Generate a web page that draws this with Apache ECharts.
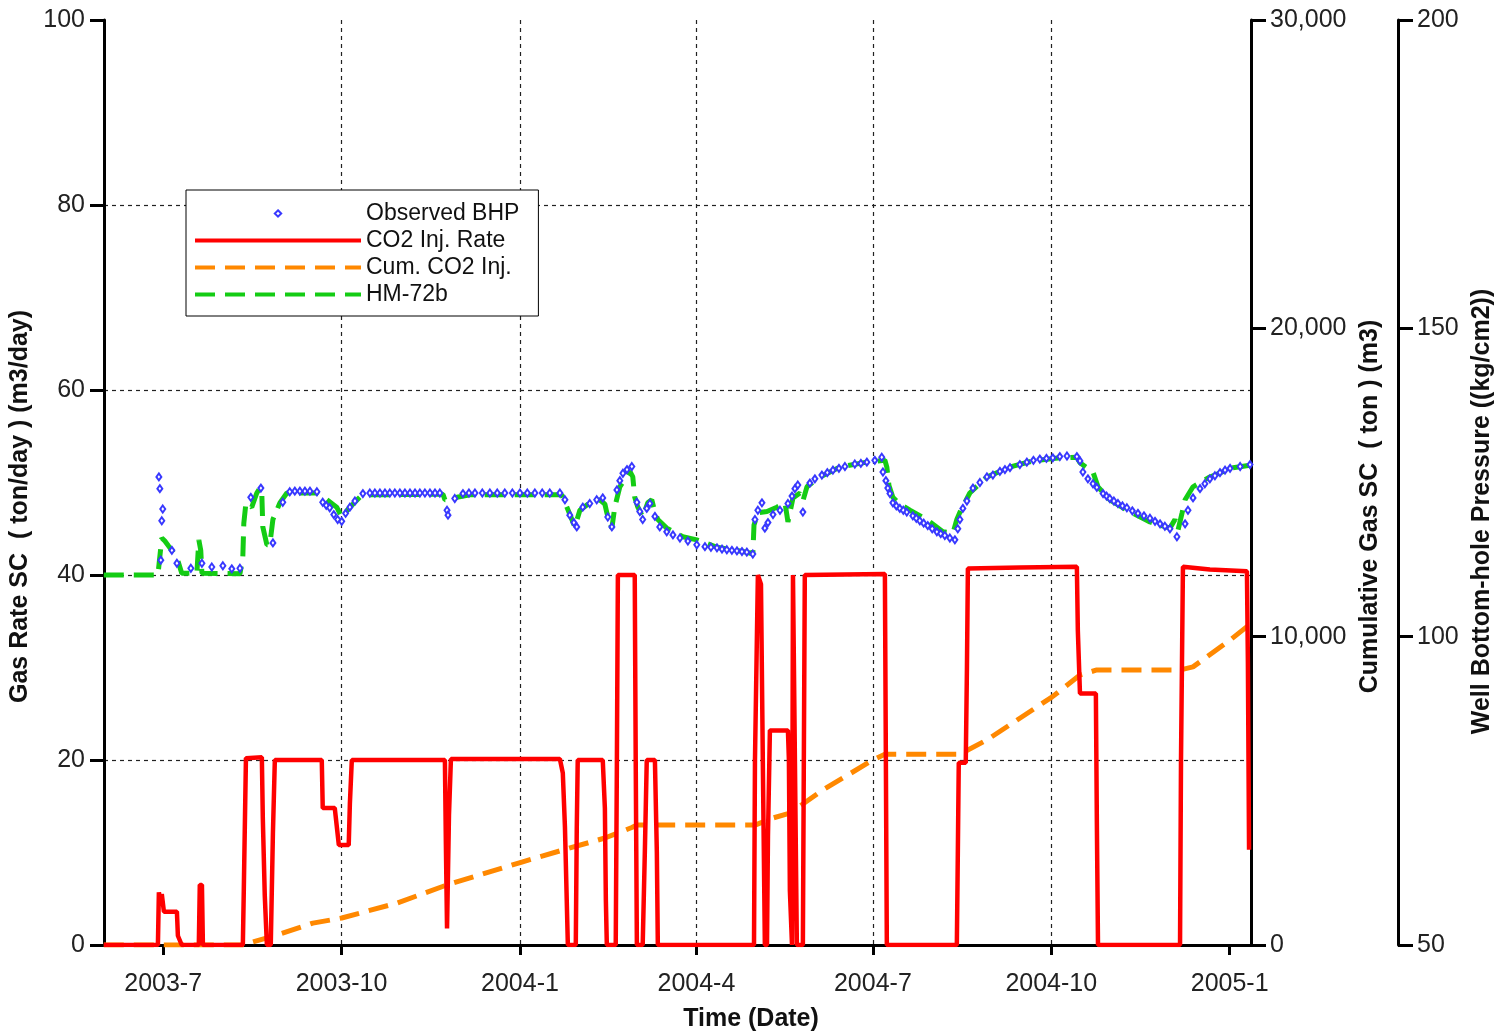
<!DOCTYPE html>
<html><head><meta charset="utf-8">
<script src="https://cdn.jsdelivr.net/npm/echarts@6/dist/echarts.min.js"></script>
<style>html,body{margin:0;padding:0;background:#fff}#c{width:1502px;height:1035px}</style>
</head><body><div id="c"></div>
<script>
// x values are elapsed days since 2003-07-01
const tickDates = ['2003-07-01','2003-10-01','2004-01-01','2004-04-01','2004-07-01','2004-10-01','2005-01-01'];
const tickLabels = ['2003-7','2003-10','2004-1','2004-4','2004-7','2004-10','2005-1'];
const xRangeDays = [-30.5, 561];

// CO2 Inj. Rate (ton/day) : [day, value]
const co2Rate = [[-30.6,0],[-2.7,0],[-2.2,5.7],[-1.2,4.5],[-0.7,5.5],[0.4,3.6],[7.1,3.6],[7.6,1.0],[9.6,0],
 [18.4,0],[18.9,6.5],[20.0,6.5],[20.5,0],[41.1,0],[41.6,6],[42.7,20.2],[50.9,20.3],[51.4,13.7],[52.4,5.4],[53.5,0],
 [55.5,0],[56.6,12],[57.6,20],[81.8,20],[82.3,14.8],[88.5,14.8],[90.6,10.8],[95.7,10.8],[96.3,15.3],[97.3,20],
 [145.3,20],[145.8,11],[146.4,1.8],[147.4,14],[148.4,20.1],[204.6,20.1],[206.1,18.6],[207.2,12.8],[208.7,0],
 [212.8,0],[213.3,12.6],[213.8,20],[226.7,20],[227.8,14.8],[228.3,4.9],[228.8,0],[233.4,0],[234.0,20],[234.5,40],
 [243.2,40],[243.7,20],[244.3,0],[247.3,0],[248.4,10],[249.4,20],[253.6,20],[254.6,10],[255.1,0],
 [304.7,0],[305.2,20],[306.7,40],[308.3,39],[309.3,18.9],[310.3,0],[311.4,0],[311.9,11.7],[312.9,23.2],
 [322.2,23.2],[322.7,20],[323.2,5.9],[324.3,0],[324.8,40],[325.8,40],[326.8,0],[329.9,0],[330.9,40],
 [372.2,40.1],[373.2,0],[409.3,0],[409.8,9.7],[410.3,19.7],[413.9,19.7],[414.5,29.7],[415.0,40.7],
 [441.8,40.8],[471.2,40.9],[471.7,34],[472.8,27.2],[481.0,27.2],[481.5,13.5],[482.1,0],[524.4,0],
 [524.9,20],[525.9,40.9],[539.8,40.6],[558.9,40.4],[559.4,30.5],[560.0,10.3]];

// Cum. CO2 Inj. (ton) : [day, value]
const co2Cum = [[-30.6,0],[43.2,0],[46.3,100],[58.6,320],[77.2,710],[92.1,876],[120.6,1360],[146.4,1950],
 [185.0,2690],[206.1,3080],[227.8,3470],[241.7,3810],[244.3,3890],[305.2,3890],[314.5,4120],[323.2,4280],
 [340.2,5030],[366.0,6000],[372.2,6190],[410.9,6190],[424.8,6650],[458.3,8040],[472.8,8755],[481.5,8920],
 [524.4,8920],[531.1,9020],[550.2,9890],[560.0,10380]];

// HM-72b simulated BHP (kg/cm2) : [day, value]
const hm72b = [[-30.6,110],[-2.7,110],[-1.7,113],[-0.7,116],[0.9,115.5],[3.5,114.4],[7.1,112.8],[9.6,110.3],
 [17.4,110.3],[18.4,115.7],[19.4,114],[20.0,110.3],[39.6,110.2],[41.1,113],[41.6,118.4],[42.7,121.7],[45.7,121],
 [48.3,123.3],[49.9,124.1],[50.9,123],[51.4,117.8],[53.5,114.9],[55.0,114.9],[56.6,119],[60.2,121.7],[63.8,123.3],
 [65.3,123.3],[79.3,123.3],[84.4,122.2],[89.5,121],[92.1,119.4],[96.3,121],[101.4,122.6],[105.1,123],
 [144.3,123.1],[145.3,122.2],[147.9,122.2],[151.5,122.6],[158.2,123],[205.6,123],[208.2,121],[210.8,119],
 [212.3,117.8],[214.9,120.5],[220.0,121.7],[225.2,122.2],[227.8,121.5],[228.8,120.1],[231.4,117.6],[232.9,121],
 [235.5,124.3],[240.7,126.8],[242.2,125.9],[243.2,122.6],[244.8,121],[247.3,119.4],[249.9,121.7],[252.0,122.2],
 [253.6,120.2],[255.1,119],[259.7,117.6],[268.0,116.2],[275.2,115.7],[285.6,114.5],[301.0,113.7],[304.1,113.4],
 [304.7,118.1],[306.7,120.1],[311.4,120.3],[316.5,121],[320.7,121.7],[322.2,118.6],[324.8,122.5],[328.4,123.3],
 [329.9,122],[332.0,124.3],[338.7,125.9],[349.0,127.5],[362.9,128.3],[372.2,128.6],[373.2,127.5],[374.3,124.5],
 [376.3,122.6],[379.9,121.5],[385.1,120.5],[393.8,119],[402.1,117],[407.3,116.8],[409.3,119],[410.9,120.2],
 [416.0,123.3],[424.8,125.9],[436.7,127.5],[448.5,128.5],[462.5,129],[471.2,129.1],[472.8,128.2],[479.5,126.7],
 [482.1,124.3],[488.2,122.2],[497.0,120.5],[508.9,118.6],[519.2,117.6],[521.8,119],[523.4,117.3],[525.4,120],
 [527.0,122.2],[531.1,124.3],[539.8,125.9],[551.7,127.4],[560.5,127.8]];

// Observed BHP (kg/cm2) : [day, value]
const observedBHP = [[-2.2,125.9],[-1.7,124.0],[-1.2,112.4],[-0.7,118.8],[-0.2,120.7],[4.5,114],[7.1,111.9],
 [14.3,111.1],[20.0,111.9],[25.1,111.3],[30.8,111.5],[35.4,111],[39.6,111.1],[45.2,122.6],[50.4,124.1],
 [56.6,115.2],[61.7,121.8],[65.3,123.5],[67.9,123.6],[70.5,123.6],[73.1,123.6],[75.7,123.6],[79.3,123.5],
 [82.3,121.8],[84.1,121.3],[85.9,120.9],[88.0,119.8],[90.0,119],[92.1,118.7],[94.1,120],[96.3,121],[98.9,122],[103.0,123.2],
 [106.6,123.3],[109.2,123.3],[111.8,123.3],[114.4,123.3],[116.9,123.3],[119.5,123.3],[122.1,123.3],[124.7,123.3],[127.3,123.3],[129.9,123.3],[132.4,123.3],[135.0,123.3],[137.6,123.3],[140.2,123.3],[142.7,123.3],
 [146.4,120.5],[146.9,119.7],[150.4,122.4],[154.6,123.2],[157.7,123.3],[160.8,123.3],[164.6,123.3],[168.5,123.3],[172.3,123.3],[176.2,123.3],[180.1,123.3],[184.0,123.3],
 [187.8,123.3],[191.7,123.3],[195.5,123.3],[199.4,123.3],[204.6,123.3],[207.2,122.2],[209.7,119.7],[211.8,118.5],[213.3,117.8],[216.4,121],
 [220.0,121.6],[223.6,122.2],[226.7,122.5],[229.3,119.4],[231.4,117.8],[234.0,123.8],[235.5,125.3],[237.1,126.5],
 [239.2,127.1],[241.7,127.6],[244.3,121.8],[245.8,120.3],[247.3,119],[249.4,120.8],[251.0,121.6],[253.6,119.5],
 [256.1,117.8],[259.7,117],[262.9,116.5],[266.5,116],[270.6,115.5],[275.2,114.9],[279.4,114.6],[282.5,114.5],[285.6,114.4],[288.2,114.2],
 [290.7,114.1],[293.3,114.0],[295.9,113.9],[298.5,113.8],[301.0,113.7],[304.1,113.4],[305.2,119],[306.7,120.5],[308.8,121.7],[310.3,117.6],
 [311.9,118.5],[314.5,119.8],[318.1,120.5],[322.2,121.6],[324.3,122.8],[325.8,124],[327.3,124.6],[329.9,120.2],
 [333.5,124.9],[336.1,125.6],[339.7,126.2],[342.5,126.6],[345.4,127],[348.5,127.3],[351.6,127.6],[356.7,128],[359.8,128.1],[362.9,128.3],[367.0,128.6],
 [370.6,129.1],[371.2,126.7],[372.7,125.3],[373.7,124.1],[374.8,123.2],[376.3,121.7],[378.1,121.2],[379.9,120.8],[381.7,120.5],[383.5,120.2],
 [386.6,119.6],[388.4,119.2],[390.2,118.8],[392.2,118.4],[394.3,118],[396.6,117.5],[399.0,117],[401.0,116.7],[403.1,116.4],[405.7,116],[408.3,115.7],[409.8,117.5],
 [410.9,119],[412.4,120.8],[414.5,122],[417.6,124.1],[421.2,125],[424.8,125.9],[427.9,126.2],[431.5,126.8],[434.1,127.1],
 [436.7,127.4],[441.8,127.9],[445.4,128.3],[448.8,128.6],[452.1,128.8],[455.5,128.9],[458.8,129],[462.4,129.2],[466.1,129.3],[471.2,129.2],[472.8,128.5],
 [474.3,126.7],[476.9,125.6],[479.5,124.8],[481.5,124.2],[484.7,123.2],[486.5,122.8],[488.2,122.4],[490.3,122.0],[492.4,121.6],[494.7,121.2],[497.0,120.9],
 [499.8,120.4],[502.7,120],[505.8,119.6],[508.9,119.2],[511.5,118.7],[514.1,118.3],[516.6,117.9],[519.2,117.5],[522.8,116.2],[527.0,118.3],[528.5,120.5],[531.1,122.5],
 [534.7,124],[537.2,124.8],[539.8,125.6],[542.4,126.1],[545.0,126.6],[547.6,127.0],[550.2,127.3],[555.4,127.6],[560.5,127.9]];

const DAY = 86400000;
const T0 = Date.UTC(2003, 6, 1);
const tickDays = tickDates.map(s => Math.round((Date.parse(s + 'T00:00:00Z') - T0) / DAY));
const tickLabel = v => { const i = tickDays.findIndex(t => Math.abs(t - v) < 0.5); return i >= 0 ? tickLabels[i] : ''; };

const FONT = '"Liberation Sans", Arial, sans-serif';
const axisLineStyle = {color: '#000', width: 3};
const tickStyle = {color: '#000', width: 3};
const labelStyle = {fontSize: 25, color: '#222', fontFamily: FONT};
const nameStyle = {fontSize: 25, fontWeight: 'bold', color: '#111', fontFamily: FONT};
const gridLine = {show: true, showMaxLine: false, showMinLine: false, lineStyle: {color: '#222', type: [4, 4], width: 1.2}};

const chart = echarts.init(document.getElementById('c'));
chart.setOption({
  animation: false,
  backgroundColor: '#fff',
  textStyle: {fontFamily: FONT},
  grid: {left: 104, right: 251, top: 20, bottom: 90, containLabel: false, outerBoundsMode: 'none'},
  legend: {
    orient: 'vertical', left: 186, top: 190, align: 'left',
    padding: [10, 19, 8, 7], itemGap: 0, itemWidth: 166, itemHeight: 8,
    borderColor: '#000', borderWidth: 1, backgroundColor: '#fff',
    lineStyle: {width: 4},
    textStyle: {fontSize: 23, color: '#111', lineHeight: 27, fontFamily: FONT},
    data: [
      {name: 'Observed BHP', lineStyle: {width: 0}},
      {name: 'CO2 Inj. Rate', itemStyle: {opacity: 0}},
      {name: 'Cum. CO2 Inj.', itemStyle: {opacity: 0}},
      {name: 'HM-72b', itemStyle: {opacity: 0}}
    ]
  },
  xAxis: {
    type: 'value', min: xRangeDays[0], max: xRangeDays[1],
    name: 'Time (Date)', nameLocation: 'middle', nameGap: 62,
    nameTextStyle: Object.assign({padding: [0, 0, 0, 147]}, nameStyle),
    axisLine: {show: true, onZero: false, lineStyle: axisLineStyle},
    axisTick: {show: true, customValues: tickDays, length: 10, lineStyle: tickStyle},
    axisLabel: Object.assign({customValues: tickDays, margin: 27, formatter: v => tickLabel(v)}, labelStyle),
    splitLine: gridLine
  },
  yAxis: [
    {
      type: 'value', position: 'left', min: 0, max: 100, interval: 20,
      name: 'Gas Rate SC  ( ton/day ) (m3/day)', nameLocation: 'middle', nameGap: 66, nameRotate: 90,
      nameTextStyle: Object.assign({padding: [0, 48, 0, 0]}, nameStyle),
      axisLine: {show: true, onZero: false, lineStyle: axisLineStyle},
      axisTick: {show: true, length: 14, lineStyle: tickStyle},
      axisLabel: Object.assign({margin: 19}, labelStyle),
      splitLine: gridLine
    },
    {
      type: 'value', position: 'right', offset: 0, min: 0, max: 30000, interval: 10000,
      name: 'Cumulative Gas SC  ( ton ) (m3)', nameLocation: 'middle', nameGap: 104, nameRotate: 90,
      nameTextStyle: Object.assign({padding: [0, 48, 0, 0]}, nameStyle),
      axisLine: {show: true, onZero: false, lineStyle: axisLineStyle},
      axisTick: {show: true, length: 15, lineStyle: tickStyle},
      axisLabel: Object.assign({margin: 19, formatter: v => v.toLocaleString('en-US')}, labelStyle),
      splitLine: {show: false}
    },
    {
      type: 'value', position: 'right', offset: 147, min: 50, max: 200, interval: 50,
      name: 'Well Bottom-hole Pressure ((kg/cm2))', nameLocation: 'middle', nameGap: 69, nameRotate: 90,
      nameTextStyle: Object.assign({padding: [0, 58, 0, 0]}, nameStyle),
      axisLine: {show: true, onZero: false, lineStyle: axisLineStyle},
      axisTick: {show: true, length: 15, lineStyle: tickStyle},
      axisLabel: Object.assign({margin: 19}, labelStyle),
      splitLine: {show: false}
    }
  ],
  series: [
    {
      name: 'Observed BHP', type: 'line', yAxisIndex: 2, data: observedBHP, z: 6,
      symbol: 'emptyDiamond', symbolSize: [5, 7], showSymbol: true, showAllSymbol: true,
      lineStyle: {width: 0, opacity: 0},
      itemStyle: {color: '#3838ff', borderColor: '#3838ff', borderWidth: 1}
    },
    {
      name: 'CO2 Inj. Rate', type: 'line', yAxisIndex: 0, data: co2Rate, z: 4,
      symbol: 'none', color: '#ff0000', lineStyle: {color: '#ff0000', width: 4.5}
    },
    {
      name: 'Cum. CO2 Inj.', type: 'line', yAxisIndex: 1, data: co2Cum, z: 3,
      symbol: 'none', color: '#ff8800', lineStyle: {color: '#ff8800', width: 5, type: [20, 10]}
    },
    {
      name: 'HM-72b', type: 'line', yAxisIndex: 2, data: hm72b, z: 5,
      symbol: 'none', color: '#14cc14', lineStyle: {color: '#14cc14', width: 5, type: [20, 10]}
    }
  ]
});
</script>
</body></html>
